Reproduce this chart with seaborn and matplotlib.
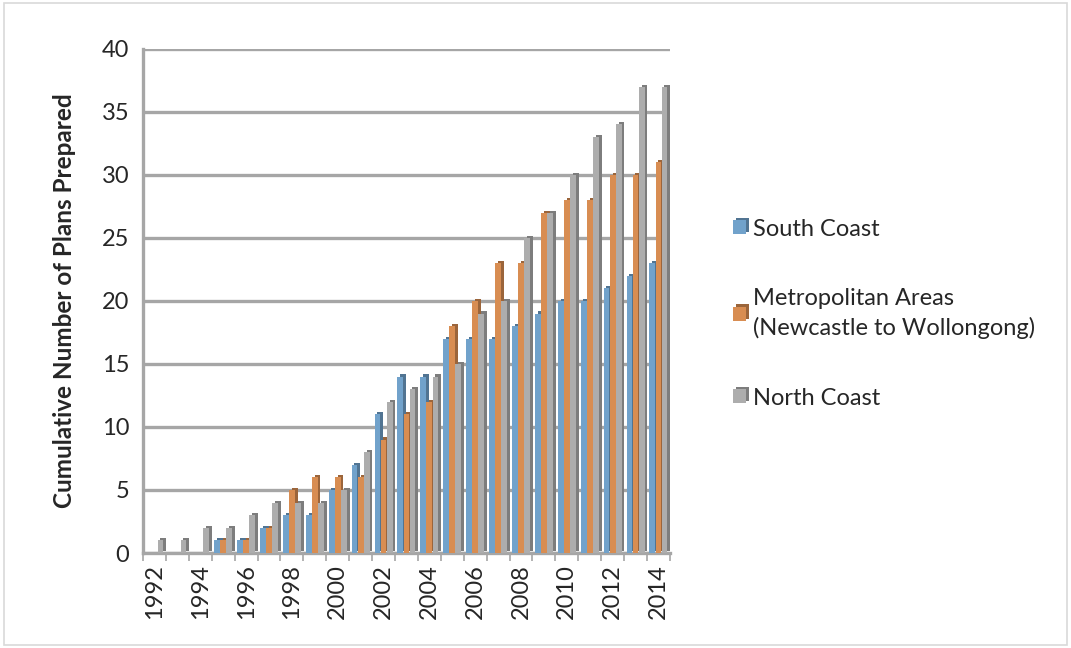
import matplotlib
matplotlib.use("Agg")
import matplotlib.pyplot as plt
import matplotlib.patheffects as pe
from matplotlib.patches import Rectangle
from matplotlib.colors import to_rgb
import numpy as np
import pandas as pd
import seaborn as sns

years = list(range(1992, 2015))
south_coast = [0, 0, 0, 1, 1, 2, 3, 3, 5, 7, 11, 14, 14, 17, 17, 17, 18, 19, 20, 20, 21, 22, 23]
metropolitan = [0, 0, 0, 1, 1, 2, 5, 6, 6, 6, 9, 11, 12, 18, 20, 23, 23, 27, 28, 28, 30, 30, 31]
north_coast = [1, 1, 2, 2, 3, 4, 4, 4, 5, 8, 12, 13, 14, 15, 19, 20, 25, 27, 30, 33, 34, 37, 37]
series_names = ["South Coast", "Metropolitan Areas\n(Newcastle to Wollongong)", "North Coast"]
colors = ["#62A3DA", "#EE8A3C", "#ADADAD"]

df = pd.DataFrame({
    "Year": [str(y) for y in years] * 3,
    "Plans": south_coast + metropolitan + north_coast,
    "Region": [series_names[0]] * len(years) + [series_names[1]] * len(years) + [series_names[2]] * len(years),
})

sns.set_style("white")
plt.rcParams["font.family"] = ["Lato", "DejaVu Sans"]

fig = plt.figure(figsize=(10.71, 6.48), dpi=100)
ax = fig.add_axes([0.1335, 0.1466, 0.492, 0.778])

sns.barplot(data=df, x="Year", y="Plans", hue="Region", palette=colors,
            width=0.8, gap=0.05, ax=ax, zorder=3, legend=True)

# give each column a darker side to suggest depth
for patch in ax.patches:
    fc = np.array(to_rgb(patch.get_facecolor()))
    patch.set_edgecolor("none")
    patch.set_path_effects([
        pe.SimplePatchShadow(offset=(2, 1.5), shadow_rgbFace=tuple(fc * 0.72), alpha=1.0),
        pe.Normal(),
    ])

ax.set_ylim(0, 40)
ax.set_xlim(-0.5, len(years) - 0.5)
ax.set_yticks(range(0, 41, 5))
ax.yaxis.grid(True, color="#A6A6A6", linewidth=2.4, zorder=0)
ax.set_axisbelow(True)

for side in ["top", "right"]:
    ax.spines[side].set_visible(False)
ax.spines["left"].set_color("#A6A6A6")
ax.spines["left"].set_linewidth(2.4)
ax.spines["bottom"].set_color("#A6A6A6")
ax.spines["bottom"].set_linewidth(2.4)

# category labels on every other year, tick marks at category boundaries
ax.set_xticks(range(0, len(years), 2))
ax.set_xticklabels([str(y) for y in years[::2]], rotation=90, fontsize=17)
ax.set_xticks(np.arange(-0.5, len(years), 1.0), minor=True)
ax.tick_params(axis="x", which="major", length=0, pad=8)
ax.tick_params(axis="x", which="minor", length=6, color="#A6A6A6", width=1.2, direction="out")
ax.tick_params(axis="y", length=6, color="#A6A6A6", width=1.2, direction="out", labelsize=17, pad=4)
ax.xaxis.set_tick_params(bottom=True, which="both")

ax.set_xlabel("")
ax.set_ylabel("Cumulative Number of Plans Prepared", fontsize=17.5, fontweight="bold", labelpad=18)

handles, labels = ax.get_legend_handles_labels()
leg = ax.legend(handles, labels, loc="center left", bbox_to_anchor=(1.08, 0.475), frameon=False,
                fontsize=17, handlelength=0.55, handleheight=0.55, handletextpad=0.3,
                labelspacing=2.05)
for txt in leg.get_texts():
    txt.set_linespacing(1.45)

fig.patches.append(Rectangle((0.004, 0.004), 0.992, 0.992, transform=fig.transFigure,
                             fill=False, edgecolor="#D9D9D9", linewidth=1.2))

fig.savefig("out.png", dpi=100)
